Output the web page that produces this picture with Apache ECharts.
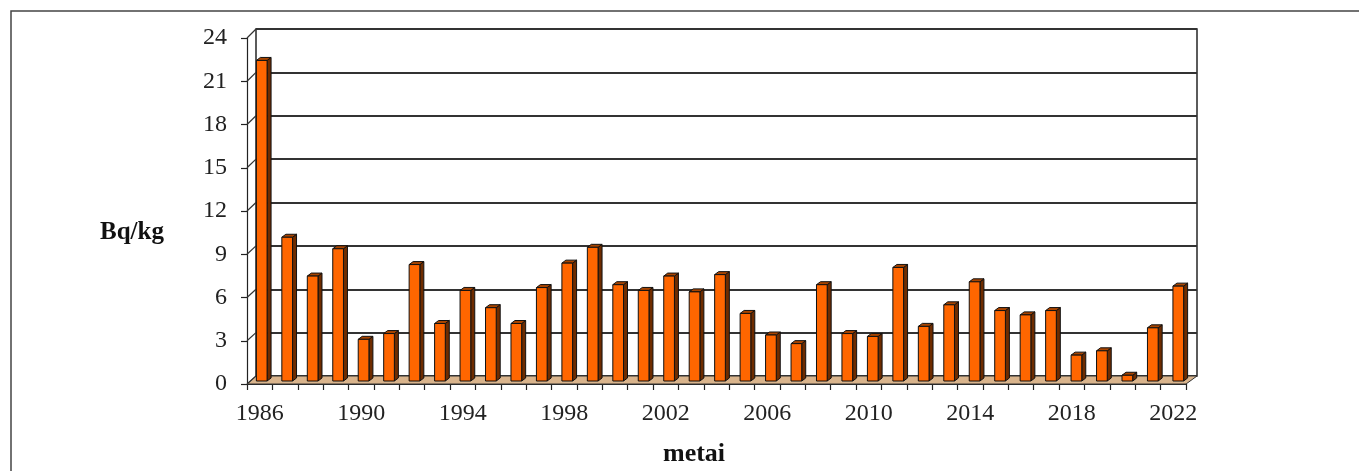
<!DOCTYPE html>
<html>
<head>
<meta charset="utf-8">
<script src="https://cdn.jsdelivr.net/npm/echarts@6/dist/echarts.min.js"></script>
<style>html,body{margin:0;padding:0;background:#fff;}#c{width:1359px;height:471px;}</style>
</head>
<body>
<div id="c"></div>
<script>
var years = ['1986','1987','1988','1989','1990','1991','1992','1993','1994','1995','1996','1997','1998','1999','2000','2001','2002','2003','2004','2005','2006','2007','2008','2009','2010','2011','2012','2013','2014','2015','2016','2017','2018','2019','2020','2021','2022'];
var values = [22.3,10.0,7.3,9.2,2.9,3.3,8.1,4.0,6.3,5.1,4.0,6.5,8.2,9.3,6.7,6.3,7.3,6.2,7.4,4.7,3.2,2.6,6.7,3.3,3.1,7.9,3.8,5.3,6.9,4.9,4.6,4.9,1.8,2.1,0.4,3.7,6.6];
var yTicks = [0,3,6,9,12,15,18,21,24];
var yTitle = 'Bq/kg';
var xTitle = 'metai';

var serif = "'Liberation Serif','DejaVu Serif',serif";
var chart = echarts.init(document.getElementById('c'));

function renderBar(params, api){
  var top = api.coord([api.value(0), api.value(1)]);
  var base = api.coord([api.value(0), 0]);
  var bw = api.size([1,0])[0]*0.42;
  var x0 = top[0]-bw/2, x1 = top[0]+bw/2;
  var dx = 4, dy = -3;
  return {type:'group', children:[
    {type:'polygon', shape:{points:[[x1,top[1]],[x1+dx,top[1]+dy],[x1+dx,base[1]+dy],[x1,base[1]]]}, style:{fill:'#6e2c00', stroke:'#111', lineWidth:1}},
    {type:'polygon', shape:{points:[[x0,top[1]],[x0+dx,top[1]+dy],[x1+dx,top[1]+dy],[x1,top[1]]]}, style:{fill:'#a84400', stroke:'#111', lineWidth:1}},
    {type:'rect', shape:{x:x0,y:top[1],width:bw,height:base[1]-top[1]}, style:{fill:'#ff6600', stroke:'#111', lineWidth:1}}
  ]};
}

var option = {
  animation:false,
  backgroundColor:'#fff',
  grid:[
    {left:256, right:162, top:29, bottom:95, show:true, borderColor:'#333', borderWidth:1.6, backgroundColor:'transparent'},
    {left:247, right:173, top:38, bottom:87},
    {left:249, right:168, top:36, bottom:90}
  ],
  xAxis:[
    {gridIndex:0, type:'category', data:years, show:false},
    {gridIndex:1, type:'category', data:years, boundaryGap:true,
      axisLine:{show:true, lineStyle:{color:'#222', width:1.2}},
      axisTick:{show:true, interval:0, length:6, lineStyle:{color:'#222', width:1.2}},
      axisLabel:{interval:3, margin:18, fontFamily:serif, fontSize:24, color:'#222'}},
    {gridIndex:2, type:'category', data:years, show:false}
  ],
  yAxis:[
    {gridIndex:0, type:'value', min:0, max:24, interval:3, axisLine:{show:false}, axisTick:{show:false}, axisLabel:{show:false},
      splitLine:{show:true, lineStyle:{color:'#333', width:1.8}}},
    {gridIndex:1, type:'value', min:0, max:24, interval:3,
      axisLine:{show:true, lineStyle:{color:'#222', width:1.2}},
      axisTick:{show:true, length:6, lineStyle:{color:'#222', width:1.2}},
      axisLabel:{margin:20, fontFamily:serif, fontSize:24, color:'#222'},
      splitLine:{show:false}},
    {gridIndex:2, type:'value', min:0, max:24, show:false, splitLine:{show:false}}
  ],
  series:[
    {type:'custom', xAxisIndex:2, yAxisIndex:2, z:10, renderItem:renderBar,
      data: values.map(function(v,i){return [i,v];})}
  ]
};
chart.setOption(option);

var fL = chart.convertToPixel({xAxisIndex:1, yAxisIndex:1}, [0,0]);
var fR = chart.convertToPixel({xAxisIndex:1, yAxisIndex:1}, [years.length-1,0]);
var bL = chart.convertToPixel({xAxisIndex:0, yAxisIndex:0}, [0,0]);
var bR = chart.convertToPixel({xAxisIndex:0, yAxisIndex:0}, [years.length-1,0]);
var halfF = (fR[0]-fL[0])/(years.length-1)/2;
var halfB = (bR[0]-bL[0])/(years.length-1)/2;
var frontLeft = fL[0]-halfF, frontRight = fR[0]+halfF;
var backLeft = bL[0]-halfB, backRight = bR[0]+halfB;

var gfx = [];
gfx.push({type:'rect', z:0, shape:{x:11, y:11, width:1400, height:600}, style:{fill:'none', stroke:'#444', lineWidth:1.5}});
gfx.push({type:'polygon', z:1, shape:{points:[[frontLeft,fL[1]],[frontRight,fR[1]],[backRight,bR[1]],[backLeft,bL[1]]]},
  style:{fill:'#d9b48c', stroke:'#333', lineWidth:1}});
yTicks.forEach(function(t){
  var pf = chart.convertToPixel({xAxisIndex:1, yAxisIndex:1}, [0,t]);
  var pb = chart.convertToPixel({xAxisIndex:0, yAxisIndex:0}, [0,t]);
  gfx.push({type:'line', z:2, shape:{x1:frontLeft, y1:pf[1], x2:backLeft, y2:pb[1]}, style:{stroke:'#333', lineWidth:1.2}});
});
gfx.push({type:'text', z:3, left:100, top:220, style:{text:yTitle, font:'bold 25px '+serif, fill:'#111'}});
gfx.push({type:'text', z:3, left:663, top:441, style:{text:xTitle, font:'bold 26px '+serif, fill:'#111'}});
chart.setOption({graphic:gfx});
</script>
</body>
</html>
